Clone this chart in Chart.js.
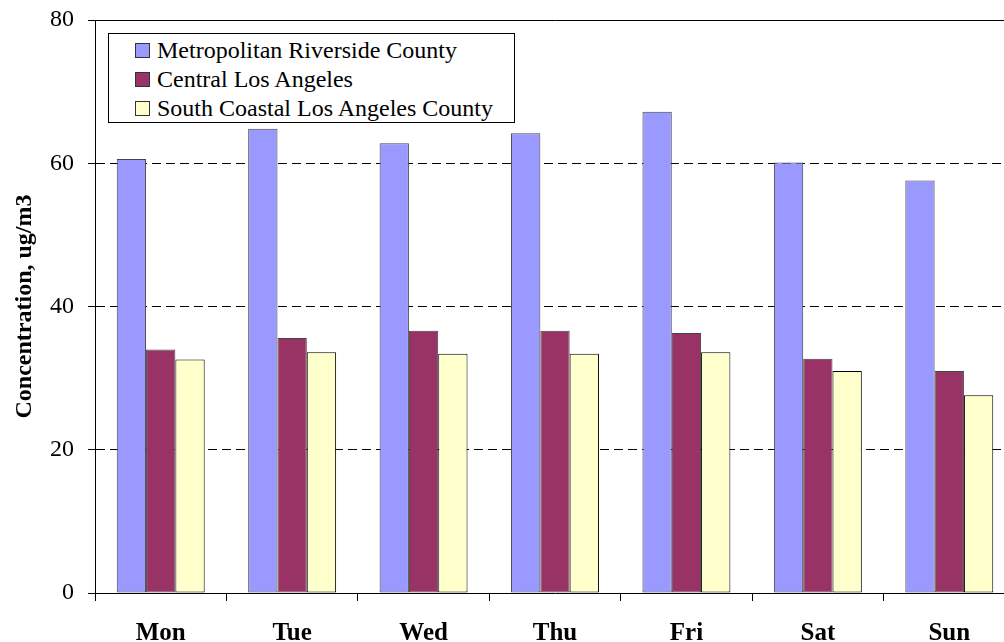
<!DOCTYPE html>
<html>
<head>
<meta charset="utf-8">
<script src="https://cdn.jsdelivr.net/npm/chart.js@4"></script>
<style>
  html,body{margin:0;padding:0;background:#fff;}
  #wrap{position:relative;width:1004px;height:642px;overflow:hidden;}
  #c{position:absolute;left:0;top:0;}
  #legend{position:absolute;left:108px;top:33px;width:405px;height:88px;border:1px solid #000;background:#fff;
    font-family:"Liberation Serif","Times New Roman",serif;font-size:24px;color:#000;}
  .item{position:absolute;left:26px;height:24px;line-height:24px;white-space:nowrap;}
  .sw{position:absolute;left:0;top:5px;width:13px;height:13px;border:1px solid #333;box-sizing:content-box;}
  .lbl{position:absolute;left:22px;top:0;}
</style>
</head>
<body>
<div id="wrap">
  <canvas id="c" width="1020" height="642" style="width:1020px;height:642px"></canvas>
  <div id="legend"></div>
</div>
<script>
const categories = ["Mon","Tue","Wed","Thu","Fri","Sat","Sun"];
const seriesNames = ["Metropolitan Riverside County","Central Los Angeles","South Coastal Los Angeles County"];
const riverside = [60.6, 64.8, 62.8, 64.2, 67.2, 60.1, 57.6];
const centralLA = [34.0, 35.6, 36.6, 36.6, 36.3, 32.7, 31.0];
const southCoastal = [32.6, 33.6, 33.4, 33.4, 33.6, 31.0, 27.6];
const yTicks = [0, 20, 40, 60, 80];
const colors = ["#9999FF", "#993366", "#FFFFCC"];

const serif = "'Liberation Serif','Times New Roman',serif";
const dataSets = [riverside, centralLA, southCoastal].map((d, i) => ({
  label: seriesNames[i],
  data: d,
  backgroundColor: colors[i],
  borderColor: i === 2 ? "#000" : "#444",
  borderWidth: 1,
  borderSkipped: false,
  categoryPercentage: 0.669,
  barPercentage: 1.0
}));

new Chart(document.getElementById("c"), {
  type: "bar",
  data: { labels: categories, datasets: dataSets },
  options: {
    responsive: false,
    animation: false,
    devicePixelRatio: 1,
    layout: { padding: { top: 20, right: 5, left: 0, bottom: 0 } },
    plugins: { legend: { display: false }, tooltip: { enabled: false } },
    scales: {
      x: {
        offset: true,
        grid: { display: true, drawOnChartArea: false, offset: true, color: "#000", tickLength: 8, lineWidth: 1 },
        border: { display: true, color: "#000", width: 1 },
        ticks: { color: "#000", font: { family: serif, size: 25, weight: "bold" }, padding: 18, maxRotation: 0 },
        afterFit: s => { s.height = 49; s.paddingLeft = 0; s.paddingRight = 0; }
      },
      y: {
        min: 0, max: 80,
        afterBuildTicks: s => { s.ticks = yTicks.map(v => ({ value: v })); },
        grid: {
          color: ctx => ctx.tick && ctx.tick.value === 0 ? "rgba(0,0,0,0)" : "#000",
          tickColor: "#000",
          tickLength: 7,
          lineWidth: 1
        },
        border: {
          display: true, color: "#000", width: 1,
          dash: ctx => (ctx.tick && ctx.tick.value === 80) ? [] : [9, 5]
        },
        ticks: { color: "#000", font: { family: serif, size: 24 }, padding: 14 },
        title: {
          display: true, text: "Concentration, ug/m3", color: "#000",
          font: { family: serif, size: 24, weight: "bold" }, padding: { top: 10, bottom: 0 }
        },
        afterFit: s => { s.width = 95; s.paddingTop = 0; s.paddingBottom = 0; }
      }
    }
  }
});

const lg = document.getElementById("legend");
seriesNames.forEach((n, i) => {
  const it = document.createElement("div");
  it.className = "item";
  it.style.top = (4 + i * 29) + "px";
  it.innerHTML = '<span class="sw" style="background:' + colors[i] + '"></span><span class="lbl"></span>';
  it.querySelector(".lbl").textContent = n;
  lg.appendChild(it);
});
</script>
</body>
</html>
